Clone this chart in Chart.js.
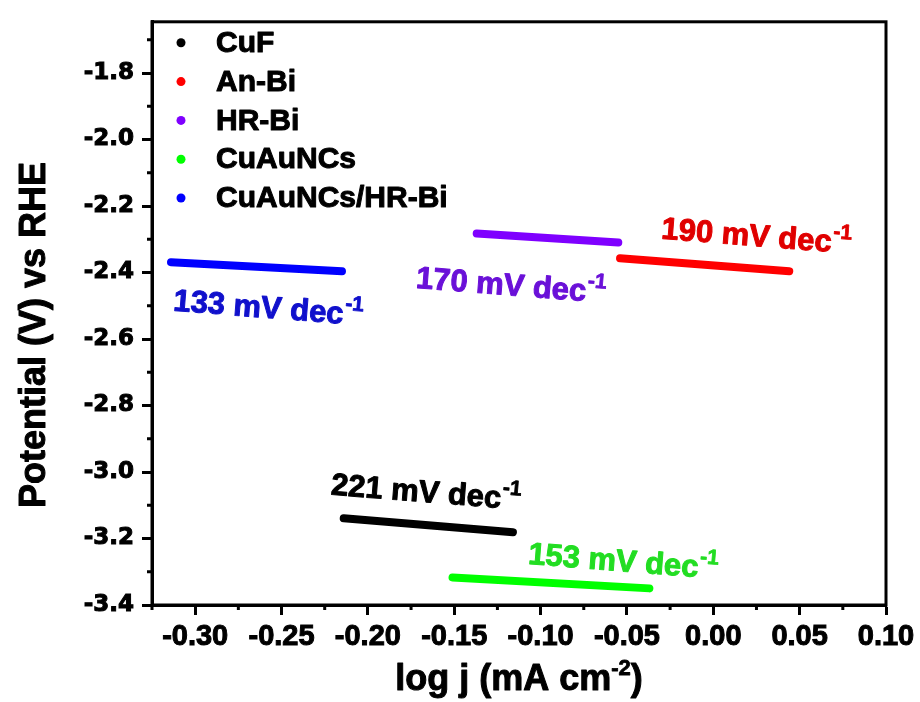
<!DOCTYPE html>
<html>
<head>
<meta charset="utf-8">
<script src="https://cdn.jsdelivr.net/npm/chart.js@4.4.1/dist/chart.umd.min.js"></script>
<style>
  html, body { margin: 0; padding: 0; background: #fff; }
  #wrap { width: 920px; height: 702px; }
</style>
</head>
<body>
<div id="wrap"><canvas id="tafelChart"></canvas></div>
<script>
// Tafel fits: log j (mA cm-2) vs potential (V vs RHE), end points of each fitted segment
const seriesNames = ['CuF', 'An-Bi', 'HR-Bi', 'CuAuNCs', 'CuAuNCs/HR-Bi'];
const cufLogJ = [-0.214, -0.116];
const cufPotential = [-3.139, -3.181];
const anBiLogJ = [-0.054, 0.044];
const anBiPotential = [-2.357, -2.396];
const hrBiLogJ = [-0.137, -0.055];
const hrBiPotential = [-2.283, -2.310];
const cuAuLogJ = [-0.151, -0.037];
const cuAuPotential = [-3.317, -3.350];
const cuAuHrBiLogJ = [-0.314, -0.215];
const cuAuHrBiPotential = [-2.369, -2.396];
const tafelSlopes = [221, 190, 170, 153, 133]; // mV dec-1

const xTicks = [-0.30, -0.25, -0.20, -0.15, -0.10, -0.05, 0.00, 0.05, 0.10];
const xMinor = [-0.325, -0.275, -0.225, -0.175, -0.125, -0.075, -0.025, 0.025, 0.075];
const yTicks = [-3.4, -3.2, -3.0, -2.8, -2.6, -2.4, -2.2, -2.0, -1.8];
const yMinor = [-3.3, -3.1, -2.9, -2.7, -2.5, -2.3, -2.1, -1.9, -1.7];

const lineColors = ['#000000', '#ff0000', '#7f00ff', '#00ff00', '#0000ff'];
const textColors = ['#000000', '#e00000', '#6a10d8', '#22dd22', '#1010cc'];
// where each slope label starts (data coords, left end of baseline)
const slopeLabelAt = [
  [-0.2217, -3.068],
  [-0.0304, -2.298],
  [-0.1725, -2.446],
  [-0.1075, -3.276],
  [-0.3130, -2.514]
];

const segments = [
  [cufLogJ, cufPotential],
  [anBiLogJ, anBiPotential],
  [hrBiLogJ, hrBiPotential],
  [cuAuLogJ, cuAuPotential],
  [cuAuHrBiLogJ, cuAuHrBiPotential]
];

const datasets = segments.map(([xs, ys], i) => ({
  label: seriesNames[i],
  data: xs.map((x, k) => ({ x: x, y: ys[k] })),
  borderColor: lineColors[i],
  backgroundColor: lineColors[i],
  borderWidth: 8,
  borderCapStyle: 'round',
  pointRadius: 0,
  showLine: true,
  tension: 0
}));

const ARIAL = '"Liberation Sans", Arial, sans-serif';

// filled text with a thin outline so it reads as heavy as the axis labels
function heavyText(ctx, text, x, y, color, stroke) {
  ctx.fillStyle = color;
  ctx.strokeStyle = color;
  ctx.lineWidth = stroke;
  ctx.lineJoin = 'round';
  ctx.strokeText(text, x, y);
  ctx.fillText(text, x, y);
}

// frame, minor ticks, legend, slope labels and axis titles
const decorations = {
  id: 'decorations',
  afterDraw(chart) {
    const { ctx, chartArea: a, scales } = chart;
    const xs = scales.x, ys = scales.y;
    ctx.save();

    // top/right frame
    ctx.strokeStyle = '#000';
    ctx.lineWidth = 3;
    ctx.strokeRect(a.left, a.top, a.right - a.left, a.bottom - a.top);

    // minor ticks
    ctx.beginPath();
    xMinor.forEach(v => {
      const px = xs.getPixelForValue(v);
      ctx.moveTo(px, a.bottom);
      ctx.lineTo(px, a.bottom + 5);
    });
    yMinor.forEach(v => {
      const py = ys.getPixelForValue(v);
      ctx.moveTo(a.left, py);
      ctx.lineTo(a.left - 5, py);
    });
    ctx.stroke();

    // legend
    ctx.font = 'bold 30px ' + ARIAL;
    ctx.textBaseline = 'middle';
    ctx.textAlign = 'left';
    chart.data.datasets.forEach((ds, i) => {
      const y = a.top + 21 + i * 38.8;
      ctx.fillStyle = ds.borderColor;
      ctx.beginPath();
      ctx.arc(a.left + 29, y, 4.5, 0, Math.PI * 2);
      ctx.fill();
      heavyText(ctx, ds.label, a.left + 64, y + 1, '#000', 1);
    });

    // Tafel slope labels
    ctx.textBaseline = 'alphabetic';
    tafelSlopes.forEach((s, i) => {
      const px = xs.getPixelForValue(slopeLabelAt[i][0]);
      const py = ys.getPixelForValue(slopeLabelAt[i][1]);
      ctx.save();
      ctx.translate(px, py);
      ctx.rotate(4.5 * Math.PI / 180);
      ctx.font = 'bold 31px ' + ARIAL;
      const main = s + ' mV dec';
      heavyText(ctx, main, 0, 0, textColors[i], 1);
      const w = ctx.measureText(main).width;
      ctx.font = 'bold 21px ' + ARIAL;
      heavyText(ctx, '-1', w + 1, -14, textColors[i], 0.8);
      ctx.restore();
    });

    // x axis title with superscript
    ctx.font = 'bold 36px ' + ARIAL;
    const t1 = 'log j (mA cm';
    const t2 = '-2';
    const t3 = ')';
    const w1 = ctx.measureText(t1).width;
    const w3 = ctx.measureText(t3).width;
    ctx.font = 'bold 22px ' + ARIAL;
    const w2 = ctx.measureText(t2).width;
    const cx = (a.left + a.right) / 2;
    const x0 = cx - (w1 + w2 + w3) / 2;
    const base = a.bottom + 85;
    ctx.font = 'bold 36px ' + ARIAL;
    heavyText(ctx, t1, x0, base, '#000', 1);
    ctx.font = 'bold 22px ' + ARIAL;
    heavyText(ctx, t2, x0 + w1, base - 15, '#000', 0.8);
    ctx.font = 'bold 36px ' + ARIAL;
    heavyText(ctx, t3, x0 + w1 + w2, base, '#000', 1);

    // y axis title
    ctx.save();
    ctx.translate(45, ys.getPixelForValue(-2.588));
    ctx.rotate(-Math.PI / 2);
    ctx.textAlign = 'center';
    heavyText(ctx, 'Potential (V) vs RHE', 0, 0, '#000', 1);
    ctx.restore();

    ctx.restore();
  }
};

const ctx = document.getElementById('tafelChart').getContext('2d');
const tafelChart = new Chart(ctx, {
  type: 'scatter',
  data: { datasets: datasets },
  options: {
    responsive: true,
    maintainAspectRatio: false,
    animation: false,
    layout: { padding: { top: 12, right: 34, left: 0, bottom: 0 } },
    plugins: {
      legend: { display: false },
      tooltip: { enabled: false }
    },
    scales: {
      x: {
        type: 'linear',
        min: -0.325,
        max: 0.10,
        afterBuildTicks: scale => { scale.ticks = xTicks.map(v => ({ value: v })); },
        afterFit: scale => { scale.height = 97; },
        ticks: {
          color: '#000',
          textStrokeColor: '#000',
          textStrokeWidth: 1,
          padding: 5,
          maxRotation: 0,
          autoSkip: false,
          font: { family: ARIAL, size: 29, weight: 'bold' },
          callback: v => v.toFixed(2)
        },
        grid: {
          drawOnChartArea: false,
          drawTicks: true,
          tickLength: 10,
          tickWidth: 3,
          tickColor: '#000'
        },
        border: { display: true, color: '#000', width: 3 }
      },
      y: {
        type: 'linear',
        min: -3.4,
        max: -1.646,
        afterBuildTicks: scale => { scale.ticks = yTicks.map(v => ({ value: v })); },
        afterFit: scale => { scale.width = 152; },
        ticks: {
          color: '#000',
          textStrokeColor: '#000',
          textStrokeWidth: 1,
          padding: 8,
          autoSkip: false,
          font: { family: '"DejaVu Sans", sans-serif', size: 23, weight: 'bold' },
          callback: v => v.toFixed(1)
        },
        grid: {
          drawOnChartArea: false,
          drawTicks: true,
          tickLength: 10,
          tickWidth: 3,
          tickColor: '#000'
        },
        border: { display: true, color: '#000', width: 3 }
      }
    }
  },
  plugins: [decorations]
});
</script>
</body>
</html>
